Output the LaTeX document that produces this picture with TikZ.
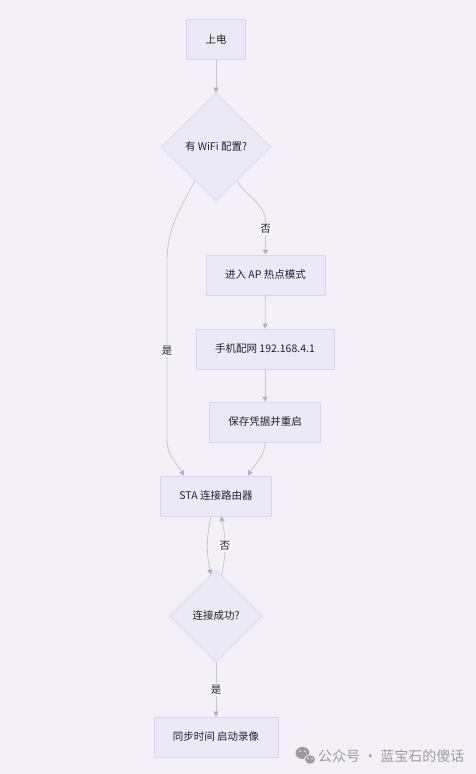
\documentclass[tikz,border=0pt]{standalone}
\usepackage{fontspec}
\setmainfont{Noto Sans CJK SC}
\usetikzlibrary{positioning,arrows.meta,shapes.geometric}
\definecolor{flowbg}{HTML}{F3F1F7}
\definecolor{boxfill}{HTML}{ECE9F7}
\definecolor{boxline}{HTML}{DAD4EF}
\definecolor{wire}{HTML}{C9C5D9}
\definecolor{wiretip}{HTML}{B3AECB}
\definecolor{labelbg}{HTML}{F8F7FA}
\definecolor{ink}{HTML}{222222}
\definecolor{wmgrey}{HTML}{9C9C9C}
\tikzset{
  txt/.style     ={text=ink, font=\fontsize{10.5}{12}\selectfont},
  procbox/.style ={txt, rectangle, draw=boxline, fill=boxfill, line width=0.6pt,
                   minimum height=40pt, inner xsep=19pt},
  choice/.style  ={txt, diamond, aspect=1, draw=boxline, fill=boxfill,
                   line width=0.6pt, inner sep=0pt},
  % one flow step; tips a shade darker than the wire
  link/.style    ={draw=wire, line width=0.8pt,
                   -{Triangle[length=5pt,width=5pt,color=wiretip]}},
  elabel/.style  ={txt, fill=labelbg, inner sep=1.5pt},
}

\begin{document}
\begin{tikzpicture}[x=1pt,y=1pt]
\useasboundingbox[fill=flowbg] (0,0) rectangle (476,-774);
% --- boot and the first check ---
\node[procbox] (start) at (216,-39) {上电};
\node[choice,minimum width=110pt,minimum height=108pt] (cfg) at (216,-147) {有 WiFi 配置?};
% --- provisioning branch ---
\node[procbox] (ap)    at (265.5,-275) {进入 AP 热点模式};
\node[procbox] (phone) at (265,-349)   {手机配网 192.168.4.1};
\node[procbox] (save)  at (265,-422)   {保存凭据并重启};
% --- station mode ---
\node[procbox] (sta) at (216,-496) {STA 连接路由器};
\node[choice,minimum width=93pt,minimum height=92pt] (ok) at (216,-616) {连接成功?};
\node[procbox] (rec) at (216,-737) {同步时间 启动录像};

\draw[link] (start) -- (cfg);
\draw[link] (cfg.-58) to[out=-60,in=90] ([yshift=32pt]ap.north)
  -- node[elabel,pos=0.2] {否} (ap.north);
\draw[link] (ap) -- (phone);
\draw[link] (phone) -- (save);
\draw[link] (cfg.-122) to[out=-118,in=90] (167,-262) -- node[elabel] {是} (167,-440)
  to[out=-90,in=120] ([xshift=-32pt]sta.north);
\draw[link] (save.south) to[out=-90,in=60] ([xshift=32pt]sta.north);
\draw[link] ([xshift=-5pt]sta.south) to[bend right=12] (ok.97);
\draw[link] (ok.82) to[bend right=12] node[elabel] {否} ([xshift=5pt]sta.south);
\draw[link] (ok) -- node[elabel] {是} (rec);

% --- watermark ---
\fill[wmgrey] (302.5,-753) ellipse (7pt and 6pt);
\fill[wmgrey,draw=flowbg,line width=0.8pt] (310,-759.5) ellipse (5.5pt and 4.8pt);
\foreach \x/\y in {300/-751, 305/-751, 308/-758.5, 312/-758.5}
  {\fill[flowbg] (\x,\y) circle (0.9pt);}
\node[anchor=west,text=wmgrey,font=\fontsize{14}{16}\selectfont,inner sep=0pt]
  (wm) at (318,-756) {公众号 · 蓝宝石的傻话};
\end{tikzpicture}
\end{document}
